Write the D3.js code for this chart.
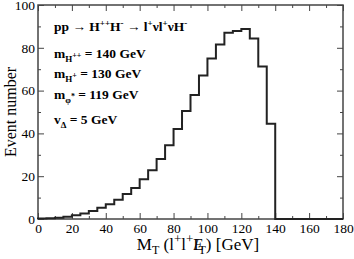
<!DOCTYPE html>
<html>
<head>
<meta charset="utf-8">
<script src="https://cdn.jsdelivr.net/npm/d3@7"></script>
<style>
  body { margin: 0; background: #fff; }
  text { font-family: "Liberation Serif", "Times New Roman", serif; fill: #000; }
  .note { font-size: 13.5px; font-weight: bold; }
</style>
</head>
<body>
<svg id="chart" width="354" height="259"></svg>
<script>
// bin lower edges (GeV), bin width 5
const binEdges = [0, 5, 10, 15, 20, 25, 30, 35, 40, 45, 50, 55, 60, 65, 70, 75, 80, 85, 90, 95,
                  100, 105, 110, 115, 120, 125, 130, 135, 140];
const counts = [0.2, 0.3, 0.6, 1.1, 1.7, 2.6, 3.7, 5.3, 6.9, 9.0, 11.7, 14.5, 18.6, 22.8, 28.0, 34.5,
                42.0, 50.5, 58.0, 67.0, 75.0, 81.6, 87.0, 87.8, 88.8, 84.3, 71.3, 44.5, 0];
const xTicks = [0, 20, 40, 60, 80, 100, 120, 140, 160, 180];
const yTicks = [0, 20, 40, 60, 80, 100];
const binWidth = 5;

const margin = { top: 5, right: 11, bottom: 40, left: 38 };
const width = 354 - margin.left - margin.right;
const height = 259 - margin.top - margin.bottom;

const svg = d3.select('#chart');
const chart = svg.append('g')
    .attr('transform', `translate(${margin.left},${margin.top})`);

const xScale = d3.scaleLinear().domain([0, 180]).range([0, width]);
const yScale = d3.scaleLinear().domain([0, 100]).range([height, 0]);

const axisColor = '#444';
const serif = '"Liberation Serif", "Times New Roman", serif';

// axes with inward ticks on all four sides
function styleAxis(g) {
  g.attr('font-family', null).attr('font-size', null);
  g.select('.domain').remove();
  g.selectAll('.tick line').attr('stroke', axisColor).attr('stroke-width', 1);
  g.selectAll('.tick text')
      .style('font-family', serif)
      .style('font-size', '13.5px')
      .attr('fill', '#000');
}

const xMinor = d3.range(10, 180, 20);
const yMinor = d3.range(10, 100, 20);

chart.append('g')
    .attr('transform', `translate(0,${height})`)
    .call(d3.axisBottom(xScale).tickValues(xTicks).tickSize(-6).tickPadding(4).tickFormat(d3.format('d')))
    .call(styleAxis)
    .call(g => g.selectAll('.tick text').attr('y', 2).attr('dy', '0.9em'));
chart.append('g')
    .attr('transform', `translate(0,${height})`)
    .call(d3.axisBottom(xScale).tickValues(xMinor).tickSize(-3).tickFormat(''))
    .call(styleAxis);
chart.append('g')
    .call(d3.axisTop(xScale).tickValues(xTicks).tickSize(-6).tickFormat(''))
    .call(styleAxis);
chart.append('g')
    .call(d3.axisTop(xScale).tickValues(xMinor).tickSize(-3).tickFormat(''))
    .call(styleAxis);

chart.append('g')
    .call(d3.axisLeft(yScale).tickValues(yTicks).tickSize(-6).tickPadding(3).tickFormat(d3.format('d')))
    .call(styleAxis);
chart.append('g')
    .call(d3.axisLeft(yScale).tickValues(yMinor).tickSize(-3).tickFormat(''))
    .call(styleAxis);
chart.append('g')
    .attr('transform', `translate(${width},0)`)
    .call(d3.axisRight(yScale).tickValues(yTicks).tickSize(-6).tickFormat(''))
    .call(styleAxis);
chart.append('g')
    .attr('transform', `translate(${width},0)`)
    .call(d3.axisRight(yScale).tickValues(yMinor).tickSize(-3).tickFormat(''))
    .call(styleAxis);

// frame
chart.append('rect')
    .attr('width', width)
    .attr('height', height)
    .attr('fill', 'none')
    .attr('stroke', axisColor)
    .attr('stroke-width', 1.5);

// histogram as a step line
const steps = [];
binEdges.forEach((e, i) => {
  const right = (i === binEdges.length - 1) ? 180 : e + binWidth;
  steps.push([e, counts[i]]);
  steps.push([right, counts[i]]);
});
steps.unshift([0, 0]);

chart.append('path')
    .datum(steps)
    .attr('fill', 'none')
    .attr('stroke', '#222')
    .attr('stroke-width', 2)
    .attr('stroke-linejoin', 'miter')
    .attr('d', d3.line().x(d => xScale(d[0])).y(d => yScale(d[1])));

// axis titles
const xt = svg.append('text')
    .attr('x', 198).attr('y', 250)
    .attr('text-anchor', 'middle')
    .style('font-size', '17px');
xt.append('tspan').text('M');
xt.append('tspan').attr('dy', 4).style('font-size', '12px').text('T');
xt.append('tspan').attr('dy', -4).text(' (l');
xt.append('tspan').attr('dy', -7).style('font-size', '13px').text('+');
xt.append('tspan').attr('dy', 7).text('l');
xt.append('tspan').attr('dy', -7).style('font-size', '13px').text('+');
xt.append('tspan').attr('dy', 7).text('E');
xt.append('tspan').attr('dx', -10).text('/');
xt.append('tspan').attr('dy', 4).style('font-size', '12px').text('T');
xt.append('tspan').attr('dy', -4).text(') [GeV]');

svg.append('text')
    .attr('transform', 'translate(16,112) rotate(-90)')
    .attr('text-anchor', 'middle')
    .style('font-size', '16px')
    .text('Event number');

// annotation
function note(y, parts) {
  const t = svg.append('text').attr('class', 'note').attr('x', 54).attr('y', y);
  parts.forEach(p => {
    const s = t.append('tspan').text(p[0]);
    if (p[1]) s.attr('dy', p[1]);
    if (p[2]) s.style('font-size', p[2]);
  });
}
note(31, [['pp \u2192 H'], ['++', -5, '9px'], ['H', 5], ['-', -5, '9px'], [' \u2192 l', 5], ['+', -5, '9px'],
          ['\u03bdl', 5], ['+', -5, '9px'], ['\u03bdH', 5], ['-', -5, '9px']]);
note(58, [['m'], ['H', 4, '9px'], ['++', -4, '8px'], [' = 140 GeV', 0]]);
note(78, [['m'], ['H', 4, '9px'], ['+', -4, '8px'], [' = 130 GeV', 0]]);
note(99, [['m'], ['\u03c6', 4, '9px'], ['*', -4, '8px'], [' = 119 GeV', 0]]);
note(124, [['v'], ['\u0394', 4, '9px'], [' = 5 GeV', -4]]);
</script>
</body>
</html>
